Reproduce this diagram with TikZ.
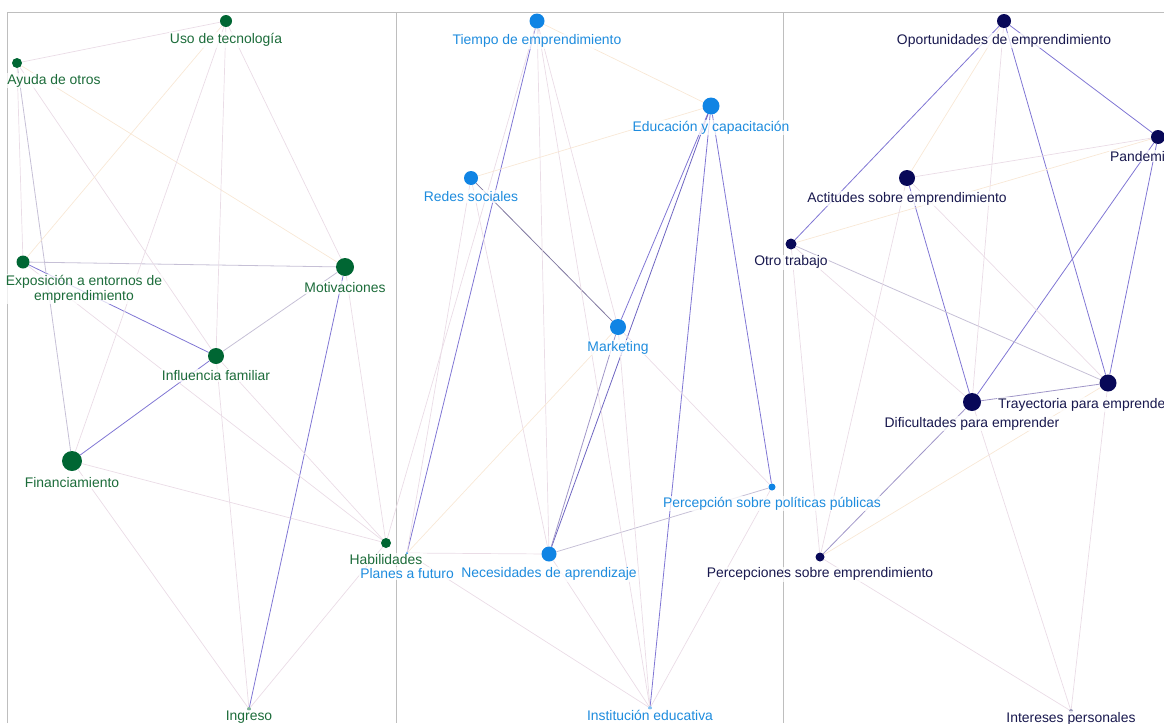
\documentclass[tikz,border=0pt]{standalone}
\usepackage{fontspec}
\setmainfont{Liberation Sans}
\usetikzlibrary{positioning, backgrounds}

\definecolor{grn}{RGB}{0,102,51}
\definecolor{grntxt}{RGB}{28,108,58}
\definecolor{blu}{RGB}{16,132,228}
\definecolor{blutxt}{RGB}{30,140,222}
\definecolor{nvy}{RGB}{8,8,88}
\definecolor{nvytxt}{RGB}{24,24,78}
\definecolor{vio}{RGB}{128,118,212}
\definecolor{midvio}{RGB}{160,150,200}
\definecolor{grayvio}{RGB}{198,192,214}
\definecolor{pnk}{RGB}{234,220,230}
\definecolor{org}{RGB}{248,232,214}
\definecolor{framegray}{RGB}{190,190,190}

\tikzset{
    gnode/.style={circle,fill=grn,inner sep=0pt},
    bnode/.style={circle,fill=blu,inner sep=0pt},
    nnode/.style={circle,fill=nvy,inner sep=0pt},
    lbl/.style={font=\fontsize{13.9}{15}\selectfont,inner sep=1pt,align=center,
        fill=white,fill opacity=0.75,text opacity=1},
    glbl/.style={lbl,text=grntxt},
    blbl/.style={lbl,text=blutxt},
    nlbl/.style={lbl,text=nvytxt},
    strong/.style={draw=vio,line width=0.8pt},
    medium/.style={draw=midvio,line width=0.8pt},
    soft/.style={draw=grayvio,line width=0.8pt},
    weak/.style={draw=pnk,line width=0.7pt},
    pale/.style={draw=org,line width=0.7pt},
    frame/.style={draw=framegray,line width=0.6pt}
}

\begin{document}
\begin{tikzpicture}[x=1pt,y=-1pt]
    \useasboundingbox (0,0) rectangle (1164,723);

    % Grupo verde
    \node[gnode,minimum size=12pt] (uso) at (226,21) {};
    \node[gnode,minimum size=10pt] (ayuda) at (17,63) {};
    \node[gnode,minimum size=13pt] (expo) at (23,262) {};
    \node[gnode,minimum size=18pt] (mot) at (345,267) {};
    \node[gnode,minimum size=16pt] (infl) at (216,356) {};
    \node[gnode,minimum size=20pt] (fin) at (72,461) {};
    \node[gnode,minimum size=10pt] (hab) at (386,543) {};
    \node[gnode,minimum size=4pt,fill=grn!50] (ing) at (249,709) {};

    \node[glbl,below=5pt of uso] (uso-t) {Uso de tecnología};
    \node[glbl,below=5pt of ayuda,xshift=37pt] (ayuda-t) {Ayuda de otros};
    \node[glbl,below=5pt of expo,xshift=61pt] (expo-t) {Exposición a entornos de\\emprendimiento};
    \node[glbl,below=5pt of mot] (mot-t) {Motivaciones};
    \node[glbl,below=5pt of infl] (infl-t) {Influencia familiar};
    \node[glbl,below=5pt of fin] (fin-t) {Financiamiento};
    \node[glbl,below=5pt of hab] (hab-t) {Habilidades};
    \node[glbl,below=-1pt of ing] (ing-t) {Ingreso};

    % Grupo azul
    \node[bnode,minimum size=15pt] (tiempo) at (537,21) {};
    \node[bnode,minimum size=17pt] (edu) at (711,106) {};
    \node[bnode,minimum size=14pt] (redes) at (471,178) {};
    \node[bnode,minimum size=16pt] (mkt) at (618,327) {};
    \node[bnode,minimum size=7pt] (ppol) at (772,487) {};
    \node[bnode,minimum size=15pt] (nec) at (549,554) {};
    \node[bnode,minimum size=2pt] (planes) at (407,553) {};
    \node[bnode,minimum size=4pt,fill=blu!50] (inst) at (650,708) {};

    \node[blbl,below=5pt of tiempo] (tiempo-t) {Tiempo de emprendimiento};
    \node[blbl,below=5pt of edu] (edu-t) {Educación y capacitación};
    \node[blbl,below=5pt of redes] (redes-t) {Redes sociales};
    \node[blbl,below=5pt of mkt] (mkt-t) {Marketing};
    \node[blbl,below=5pt of ppol] (ppol-t) {Percepción sobre políticas públicas};
    \node[blbl,below=5pt of nec] (nec-t) {Necesidades de aprendizaje};
    \node[blbl,below=13pt of planes] (planes-t) {Planes a futuro};
    \node[blbl,below=-1pt of inst] (inst-t) {Institución educativa};

    % Grupo azul oscuro
    \node[nnode,minimum size=14pt] (opo) at (1004,21) {};
    \node[nnode,minimum size=14pt] (pan) at (1158,137) {};
    \node[nnode,minimum size=16pt] (act) at (907,178) {};
    \node[nnode,minimum size=11pt] (otro) at (791,244) {};
    \node[nnode,minimum size=17pt] (tray) at (1108,383) {};
    \node[nnode,minimum size=18pt] (dif) at (972,402) {};
    \node[nnode,minimum size=9pt] (percep) at (820,557) {};
    \node[nnode,minimum size=4pt,fill=nvy!40] (inter) at (1071,711) {};

    \node[nlbl,below=5pt of opo] (opo-t) {Oportunidades de emprendimiento};
    \node[nlbl,anchor=north west] (pan-t) at (1109,150) {Pandemia};
    \node[nlbl,below=5pt of act] (act-t) {Actitudes sobre emprendimiento};
    \node[nlbl,below=5pt of otro] (otro-t) {Otro trabajo};
    \node[nlbl,anchor=north west] (tray-t) at (997,397) {Trayectoria para emprender};
    \node[nlbl,below=5pt of dif] (dif-t) {Dificultades para emprender};
    \node[nlbl,below=5pt of percep] (percep-t) {Percepciones sobre emprendimiento};
    \node[nlbl,below=-2pt of inter] (inter-t) {Intereses personales};

    \begin{scope}[on background layer]
        % paneles
        \draw[frame] (7,723) |- (1164,12);
        \draw[frame] (396,12) -- (396,723);
        \draw[frame] (783,12) -- (783,723);

        % aristas verdes
        \draw[strong] (expo) -- (infl);
        \draw[strong] (infl) -- (fin);
        \draw[strong] (mot) -- (ing);
        \draw[soft] (expo) -- (mot);
        \draw[soft] (mot) -- (infl);
        \draw[soft] (ayuda) -- (fin);
        \draw[weak] (fin) -- (hab);
        \draw[weak] (ayuda) -- (uso);
        \draw[weak] (ayuda) -- (expo);
        \draw[weak] (ayuda) -- (infl);
        \draw[pale] (ayuda) -- (mot);
        \draw[pale] (uso) -- (expo);
        \draw[weak] (uso) -- (fin);
        \draw[weak] (uso) -- (infl);
        \draw[weak] (uso) -- (mot);
        \draw[weak] (infl) -- (ing);
        \draw[weak] (infl) -- (hab);
        \draw[weak] (expo) -- (hab);
        \draw[weak] (mot) -- (hab);
        \draw[weak] (fin) -- (ing);
        \draw[weak] (hab) -- (ing);

        % aristas azules
        \draw[strong] (tiempo) -- (planes);
        \draw[strong] (edu) -- (mkt);
        \draw[strong,draw=vio!85!nvy] (edu) -- (nec);
        \draw[strong] (edu) -- (inst);
        \draw[strong] (edu) -- (ppol);
        \draw[medium,draw=midvio!80!black] (redes) -- (mkt);
        \draw[medium] (mkt) -- (nec);
        \draw[soft] (nec) -- (ppol);
        \draw[pale] (tiempo) -- (edu);
        \draw[weak] (tiempo) -- (nec);
        \draw[weak] (tiempo) -- (inst);
        \draw[weak] (tiempo) -- (mkt);
        \draw[weak] (tiempo) -- (hab);
        \draw[pale] (redes) -- (edu);
        \draw[weak] (redes) -- (nec);
        \draw[weak] (redes) -- (planes);
        \draw[weak] (mkt) -- (ppol);
        \draw[pale] (mkt) -- (planes);
        \draw[weak] (mkt) -- (inst);
        \draw[weak] (nec) -- (inst);
        \draw[weak] (nec) -- (planes);
        \draw[weak] (planes) -- (inst);
        \draw[weak] (ppol) -- (inst);

        % aristas azul oscuro
        \draw[strong] (opo) -- (otro);
        \draw[strong] (opo) -- (pan);
        \draw[strong] (opo) -- (tray);
        \draw[strong] (pan) -- (tray);
        \draw[strong] (pan) -- (dif);
        \draw[strong] (act) -- (dif);
        \draw[soft] (otro) -- (tray);
        \draw[medium] (dif) -- (tray);
        \draw[medium] (dif) -- (percep);
        \draw[pale] (opo) -- (act);
        \draw[weak] (opo) -- (dif);
        \draw[weak] (act) -- (pan);
        \draw[pale] (otro) -- (pan);
        \draw[weak] (otro) -- (dif);
        \draw[weak] (act) -- (tray);
        \draw[weak] (act) -- (percep);
        \draw[weak] (otro) -- (percep);
        \draw[pale] (tray) -- (percep);
        \draw[weak] (tray) -- (inter);
        \draw[weak] (dif) -- (inter);
        \draw[weak] (percep) -- (inter);
    \end{scope}
\end{tikzpicture}
\end{document}
